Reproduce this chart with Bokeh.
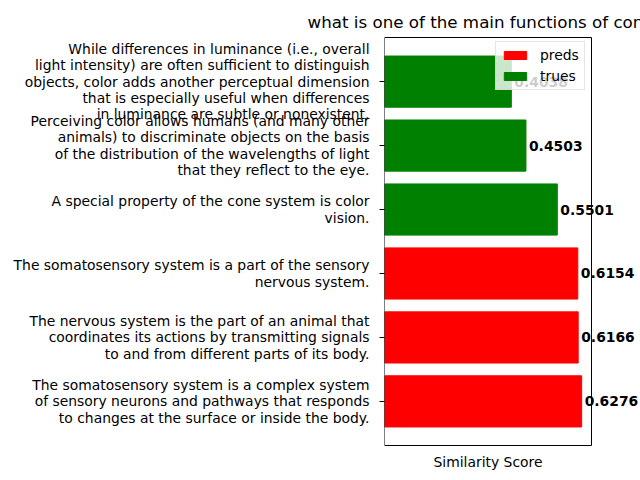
from bokeh.plotting import figure
from bokeh.models import (Range1d, FixedTicker, ColumnDataSource, Label, Legend,
                          LegendItem, Title)
from bokeh.embed import file_html
from bokeh.resources import INLINE

title_text = "what is one of the main functions of cones?"
x_label = "Similarity Score"
sentences = [
    "The somatosensory system is a complex system\nof sensory neurons and pathways that responds\nto changes at the surface or inside the body.",
    "The nervous system is the part of an animal that\ncoordinates its actions by transmitting signals\nto and from different parts of its body.",
    "The somatosensory system is a part of the sensory\nnervous system.",
    "A special property of the cone system is color\nvision.",
    "Perceiving color allows humans (and many other\nanimals) to discriminate objects on the basis\nof the distribution of the wavelengths of light\nthat they reflect to the eye.",
    "While differences in luminance (i.e., overall\nlight intensity) are often sufficient to distinguish\nobjects, color adds another perceptual dimension\nthat is especially useful when differences\nin luminance are subtle or nonexistent.",
]
scores = [0.6276, 0.6166, 0.6154, 0.5501, 0.4503, 0.4038]
kinds = ["preds", "preds", "preds", "trues", "trues", "trues"]
kind_colors = {"preds": "red", "trues": "green"}

n = len(scores)
pos = list(range(n))
colors = [kind_colors[k] for k in kinds]
labels_txt = [f"{s:.4f}" for s in scores]

FS = "13.9px"
# axes box (matplotlib-like margins)
xmax = max(scores) * 1.05
ylo, yhi = -0.69, n - 1 + 0.69

# layout: box from x=384..591, y=37..445; frame extended to the right edge so value labels are not clipped
W, H = 640, 480
box_l, box_r, box_t, box_b = 384, 591, 37, 445
px_per_x = (box_r - box_l) / xmax
px_per_y = (box_b - box_t) / (yhi - ylo)
frame_xmax = (W - box_l) / px_per_x
pad = 1 / px_per_y

p = figure(width=W, height=H, output_backend="svg", toolbar_location=None,
           x_range=Range1d(0, frame_xmax), y_range=Range1d(ylo - pad, yhi + pad),
           x_axis_location=None,
           min_border_left=box_l, min_border_right=0, min_border_top=box_t - 1,
           min_border_bottom=H - box_b - 1)
p.title = Title(text=title_text, align="left", offset=-77, text_font="DejaVu Sans",
                text_font_size="16.7px", text_font_style="normal", text_color="black")
p.background_fill_color = "white"
p.border_fill_color = "white"
p.outline_line_color = None
p.xgrid.visible = False
p.ygrid.visible = False

src = ColumnDataSource(dict(y=pos, right=scores, color=colors, kind=kinds, lab=labels_txt))
p.hbar(y="y", right="right", left=0, height=0.8, color="color", source=src)

# axes box
p.quad(left=[0], right=[xmax], bottom=[ylo], top=[yhi], fill_color=None,
       line_color="black", line_width=1)

yax = p.yaxis[0]
yax.ticker = FixedTicker(ticks=pos)
yax.major_label_overrides = {i: s for i, s in enumerate(sentences)}
yax.major_label_text_font = "DejaVu Sans"
yax.major_label_text_font_size = FS
yax.major_label_text_line_height = 1.02
yax.major_label_text_color = "black"
yax.major_tick_out = 5
yax.major_tick_in = 0
yax.minor_tick_line_color = None
yax.axis_line_color = None
yax.major_label_standoff = 10

p.add_layout(Title(text=x_label, align="left", offset=49, text_font="DejaVu Sans",
                   text_font_size=FS, text_font_style="normal", text_color="black"),
             "below")

for yy, sc, lab in zip(pos, scores, labels_txt):
    p.add_layout(Label(x=sc, y=yy, text=lab, x_offset=3, text_baseline="middle",
                       text_font="DejaVu Sans", text_font_size=FS,
                       text_font_style="bold", text_color="black"))

pr = p.hbar(y=[0], right=[0], height=0.0001, color="red", visible=False)
tr = p.hbar(y=[0], right=[0], height=0.0001, color="green", visible=False)
leg = Legend(items=[LegendItem(label="preds", renderers=[pr]),
                    LegendItem(label="trues", renderers=[tr])],
             location=(111, 356), margin=0, padding=5, spacing=5,
             label_standoff=11,
             label_text_font="DejaVu Sans", label_text_font_size=FS,
             label_text_color="black", glyph_width=28, glyph_height=10,
             label_height=16, border_line_color="#cccccc", border_line_width=1,
             background_fill_color="white", background_fill_alpha=0.8)
p.add_layout(leg)

open("out.html", "w").write(file_html(p, INLINE))
